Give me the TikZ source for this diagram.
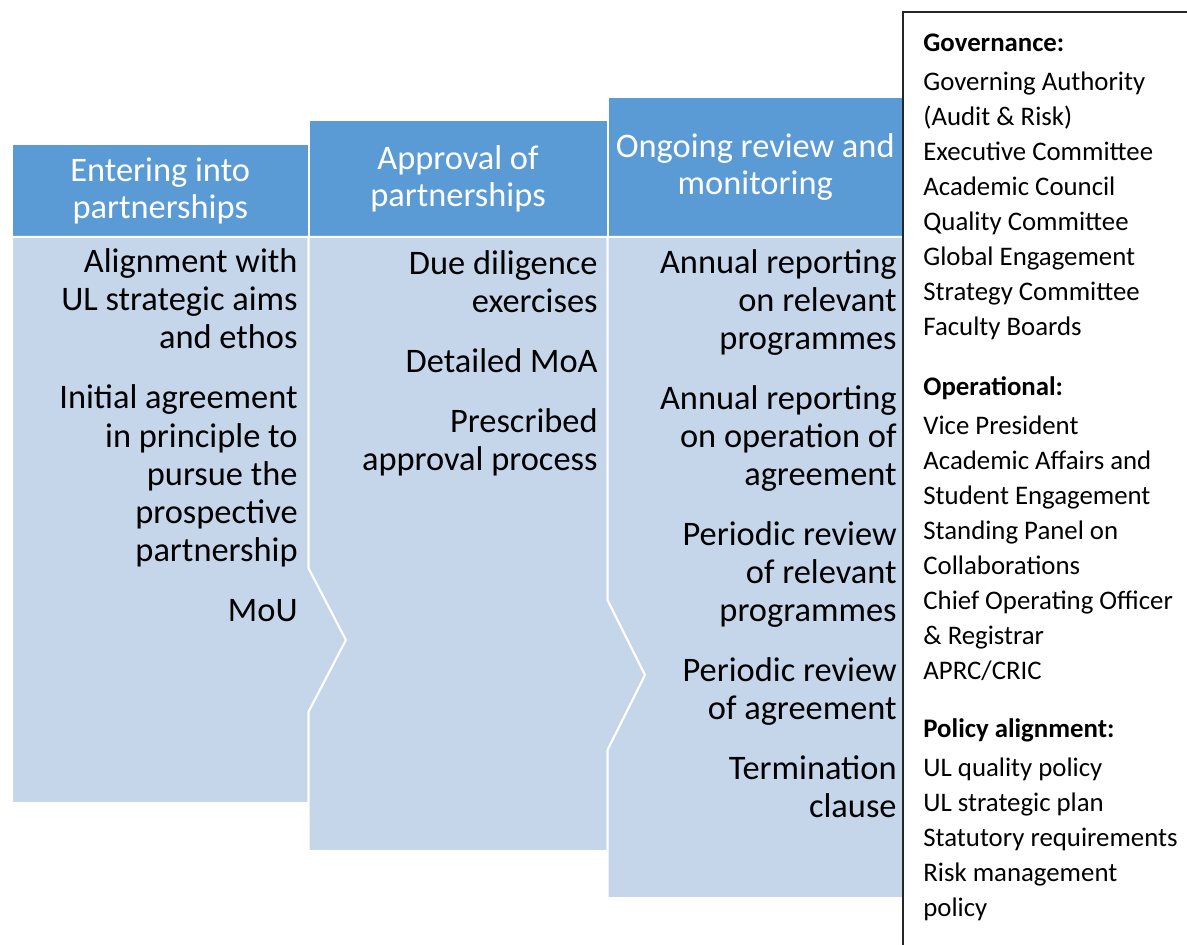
\documentclass[tikz,border=0pt]{standalone}
\usepackage{fontspec}
\setmainfont{Carlito}
\usetikzlibrary{positioning}
\definecolor{headblue}{RGB}{91,155,213}
\definecolor{bodyblue}{RGB}{197,213,234}

\begin{document}
\begin{tikzpicture}[x=0.5pt,y=-0.5pt]

	\tikzstyle{head}=[rectangle,fill=headblue,draw=white,line width=1pt,text=white,align=center,inner sep=0pt,font=\fontsize{17.2}{18.5}\selectfont]
	\tikzstyle{body}=[fill=bodyblue,draw=white,line width=1pt]
	\tikzstyle{body text}=[align=right,inner sep=0pt,font=\fontsize{17.2}{19}\selectfont]
	\tikzstyle{side text}=[align=left,inner sep=0pt,font=\fontsize{13.4}{17.5}\selectfont]

	\useasboundingbox (0,0) rectangle (1187,945);

	% the three stages
	\node [head,minimum width=148.25pt,minimum height=46.5pt] (enter) at (160.25,190.5) {Entering into\\partnerships};
	\node [head,minimum width=149.5pt,minimum height=58.5pt] (approve) at (458,178.5) {Approval of\\partnerships};
	\node [head,minimum width=147.75pt,minimum height=70pt] (review) at (755.25,167) {Ongoing review and\\monitoring};

	\draw [body] (12,237) -- (308.5,237) -- (308.5,568) -- (346,640) -- (308.5,712) -- (308.5,803) -- (12,803) -- cycle;
	\draw [body] (308.5,237) -- (607.5,237) -- (607.5,600) -- (645,675) -- (607.5,750) -- (607.5,851) -- (308.5,851) -- (308.5,712) -- (346,640) -- (308.5,568) -- cycle;
	\draw [body] (607.5,237) -- (903,237) -- (903,898) -- (607.5,898) -- (607.5,750) -- (645,675) -- (607.5,600) -- cycle;

	% base is the last line
	\node [body text,anchor=base east] (enterlist) at (298,621) {Alignment with\\UL strategic aims\\and ethos\\[11pt]Initial agreement\\in principle to\\pursue the\\prospective\\partnership\\[11pt]MoU};
	\node [body text,anchor=base east] (approvelist) at (598,471) {Due diligence\\exercises\\[11pt]Detailed MoA\\[11pt]Prescribed\\approval process};
	\node [body text,anchor=base east] (reviewlist) at (897,817) {Annual reporting\\on relevant\\programmes\\[11pt]Annual reporting\\on operation of\\agreement\\[11pt]Periodic review\\of relevant\\programmes\\[11pt]Periodic review\\of agreement\\[11pt]Termination\\clause};

	% side box
	\draw [line width=0.6pt,black!85] (903,945) -- (903,12) -- (1187,12);
	\node [side text,anchor=base west] (gov) at (923,335.5) {\textbf{Governance:}\\[2pt]Governing Authority\\(Audit \& Risk)\\Executive Committee\\Academic Council\\Quality Committee\\Global Engagement\\Strategy Committee\\Faculty Boards};
	\node [side text,anchor=base west] (ops) at (923,679.5) {\textbf{Operational:}\\[2pt]Vice President\\Academic Affairs and\\Student Engagement\\Standing Panel on\\Collaborations\\Chief Operating Officer\\\& Registrar\\APRC/CRIC};
	\node [side text,anchor=base west] (pol) at (923,916.5) {\textbf{Policy alignment:}\\[2pt]UL quality policy\\UL strategic plan\\Statutory requirements\\Risk management\\policy};

\end{tikzpicture}
\end{document}
